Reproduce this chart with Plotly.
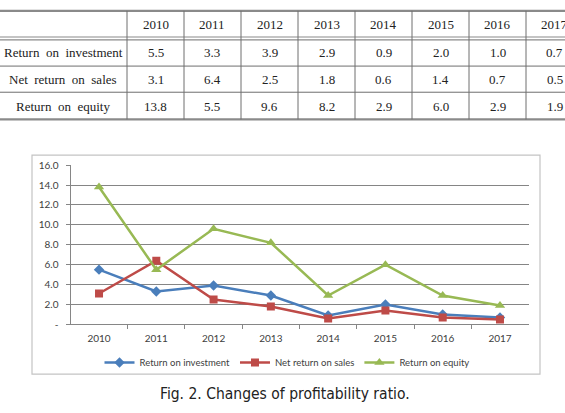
import plotly.graph_objects as go

# ---------------- data ----------------
years = ["2010", "2011", "2012", "2013", "2014", "2015", "2016", "2017"]
series_names = ["Return on investment", "Net return on sales", "Return on equity"]
roi = [5.5, 3.3, 3.9, 2.9, 0.9, 2.0, 1.0, 0.7]
nros = [3.1, 6.4, 2.5, 1.8, 0.6, 1.4, 0.7, 0.5]
roe = [13.8, 5.5, 9.6, 8.2, 2.9, 6.0, 2.9, 1.9]
y_tickvals = [0, 2, 4, 6, 8, 10, 12, 14, 16]
y_ticktext = ["-", "2.0", "4.0", "6.0", "8.0", "10.0", "12.0", "14.0", "16.0"]
caption = "Fig. 2. Changes of profitability ratio."

# ---------------- geometry helpers (pixels -> paper) ----------------
W, H = 565, 413
def px(x):
    return x / W
def py(y):
    return 1 - y / H

colors = ["#4A7EBB", "#BE4B48", "#98B954"]
symbols = ["diamond", "square", "triangle-up"]
msizes = [8, 8, 9]

fig = go.Figure()
for name, vals, c, s, ms in zip(series_names, [roi, nros, roe], colors, symbols, msizes):
    fig.add_trace(go.Scatter(
        x=years, y=vals, name=name, mode="lines+markers",
        line=dict(color=c, width=2.5),
        marker=dict(symbol=s, size=ms, color=c),
    ))

shapes = []
annotations = []

# ---------------- table ----------------
col_left = -3
first_col_right = 127
col_w = 57
grid_col = "#6e6e6e"
table_font = dict(family="Liberation Serif, Times New Roman, serif", size=13, color="#222222")

shapes.append(dict(type="line", xref="paper", yref="paper", x0=px(col_left), x1=px(W + 40),
                   y0=py(4), y1=py(4), line=dict(color="#8a8a8a", width=2.2)))
for yy in (31, 34):
    shapes.append(dict(type="line", xref="paper", yref="paper", x0=px(col_left), x1=px(W + 40),
                       y0=py(yy), y1=py(yy), line=dict(color="#8a8a8a", width=1.2)))
for yy in (61, 88):
    shapes.append(dict(type="line", xref="paper", yref="paper", x0=px(col_left), x1=px(W + 40),
                       y0=py(yy), y1=py(yy), line=dict(color=grid_col, width=1)))
shapes.append(dict(type="line", xref="paper", yref="paper", x0=px(col_left), x1=px(W + 40),
                   y0=py(116), y1=py(116), line=dict(color="#8a8a8a", width=2.2)))
for i in range(len(years) + 1):
    xx = first_col_right + i * col_w
    shapes.append(dict(type="line", xref="paper", yref="paper", x0=px(xx), x1=px(xx),
                       y0=py(4), y1=py(116), line=dict(color=grid_col, width=1)))

row_centers = [18.5, 47, 75, 102.5]
label_center = (col_left + first_col_right) / 2 + 1
for j, yr in enumerate(years):
    annotations.append(dict(xref="paper", yref="paper", x=px(first_col_right + (j + 0.5) * col_w),
                            y=py(row_centers[0]), text=yr, showarrow=False, font=table_font,
                            xanchor="center", yanchor="middle"))
for i, (name, vals) in enumerate(zip(series_names, [roi, nros, roe])):
    annotations.append(dict(xref="paper", yref="paper", x=px(label_center), y=py(row_centers[i + 1]),
                            text=name.replace(" ", " \u00a0"), showarrow=False, font=table_font,
                            xanchor="center", yanchor="middle"))
    for j, v in enumerate(vals):
        annotations.append(dict(xref="paper", yref="paper", x=px(first_col_right + (j + 0.5) * col_w),
                                y=py(row_centers[i + 1]), text=f"{v:.1f}", showarrow=False,
                                font=table_font, xanchor="center", yanchor="middle"))

# ---------------- chart border ----------------
shapes.append(dict(type="rect", xref="paper", yref="paper", x0=px(32), x1=px(540),
                   y0=py(379), y1=py(153), line=dict(color="#c4c4c4", width=1.2), layer="below"))

# ---------------- caption ----------------
annotations.append(dict(xref="paper", yref="paper", x=px(285), y=py(400), text=caption,
                        showarrow=False, xanchor="center", yanchor="middle",
                        font=dict(family="Liberation Sans Narrow, DejaVu Sans Condensed, Noto Sans CJK KR, sans-serif",
                                  size=15.5, color="#222222")))

axis_font = dict(family="Lato, Open Sans, sans-serif", size=10, color="#404040")
fig.update_layout(
    width=W, height=H,
    margin=dict(l=0, r=0, t=0, b=0),
    paper_bgcolor="white", plot_bgcolor="white",
    shapes=shapes, annotations=annotations,
    showlegend=True,
    legend=dict(orientation="h", x=px(287), xanchor="center", y=py(367), yanchor="middle",
                font=dict(family="Lato, Open Sans, sans-serif", size=9.5, color="#404040"),
                bgcolor="rgba(0,0,0,0)", itemwidth=30, tracegroupgap=0),
    xaxis=dict(domain=[px(70.5), px(528.5)], type="category", showline=True, linecolor="#868686",
               linewidth=1, ticks="outside", tickson="boundaries", ticklen=4, tickcolor="#868686",
               showgrid=False, tickfont=axis_font, zeroline=False, ticklabelstandoff=5),
    yaxis=dict(domain=[py(327.7), py(163.3)], range=[0, 16], tickvals=y_tickvals, ticktext=y_ticktext,
               showline=True, linecolor="#868686", linewidth=1, ticks="outside", ticklen=4,
               tickcolor="#868686", showgrid=True, gridcolor="#858585", gridwidth=1,
               tickfont=axis_font, zeroline=False, ticklabelstandoff=5),
)

fig.write_html("out.html")
